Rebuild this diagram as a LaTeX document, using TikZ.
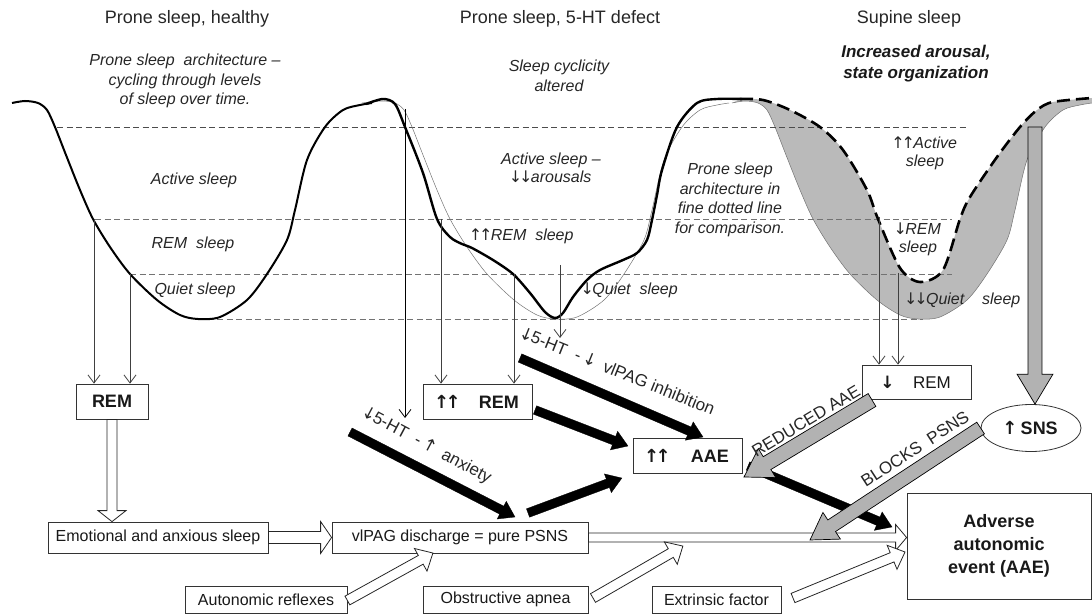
\documentclass[tikz,border=0pt]{standalone}
\usepackage{fontspec}
\setmainfont{Liberation Sans}
\newfontfamily\arrfont{DejaVu Sans}
\newcommand\arU{{\arrfont\kern-0.1em ↑\kern-0.1em}}
\newcommand\arD{{\arrfont\kern-0.1em ↓\kern-0.1em}}
\usetikzlibrary{calc,arrows.meta,shapes.geometric}

\newcommand\fatarr[6][]{%
  \path[#1] let \p1=#2, \p2=#3,
    \n1={atan2(\y2-\y1,\x2-\x1)},
    \n2={veclen(\x2-\x1,\y2-\y1)} in
    [shift={(\p1)},rotate=\n1]
    (0pt,#4pt) -- ({\n2-#6pt},#4pt) -- ({\n2-#6pt},#5pt) -- (\n2,0pt)
    -- ({\n2-#6pt},-#5pt) -- ({\n2-#6pt},-#4pt) -- (0pt,-#4pt) -- cycle;}

\begin{document}
\begin{tikzpicture}[x=1bp,y=-1bp,
  ttl/.style={font=\fontsize{18bp}{21bp}\selectfont, inner sep=0pt, text=black!85},
  itl/.style={font=\fontsize{16bp}{19.5bp}\selectfont\itshape, align=center, inner sep=0pt, text=black!85},
  itlb/.style={font=\fontsize{17bp}{21bp}\selectfont\itshape\bfseries, align=center, inner sep=0pt, text=black!90},
  lbl/.style={font=\fontsize{17bp}{19bp}\selectfont, inner sep=0pt, text=black!85},
  box/.style={draw=black!80, line width=0.8bp, fill=white, inner sep=0pt, font=\fontsize{16bp}{19bp}\selectfont, text=black!90},
  bbox/.style={box, font=\fontsize{18bp}{23bp}\selectfont\bfseries},
  hl/.style={dash pattern=on 6bp off 3.5bp, line width=0.7bp, black!55},
  thinarr/.style={line width=0.8bp, black!75, -{Straight Barb[length=8bp,width=12bp]}},
  curve/.style={line width=2bp, black},
  thincurve/.style={line width=0.5bp, black!55},
  dashcurve/.style={line width=2.6bp, black, dash pattern=on 13bp off 6bp},
  whitearr/.style={fill=white, draw=black!85, line width=0.8bp},
  blackarr/.style={fill=black, draw=black, line width=0.3bp},
  grayarr/.style={fill=black!30, draw=black, line width=0.7bp}]
\useasboundingbox (0,0) rectangle (1092,614);

% titles
\node[ttl] (t1) at (187,19) {Prone sleep, healthy};
\node[ttl] (t2) at (560,19) {Prone sleep, 5-HT defect};
\node[ttl] (t3) at (909,19) {Supine sleep};
\node[itl] (s1) at (185,81) {Prone sleep\ \ architecture --\\cycling through levels\\of sleep over time.};
\node[itl] (s2) at (559,76) {Sleep cyclicity\\altered};
\node[itlb] (s3) at (916,63.5) {Increased arousal,\\state organization};

% gray supine region
\fill[black!27] plot[smooth] coordinates {(732,103) (745,101) (758,103) (767,110) (775,127) (786,155) (800,190) (813,219) (830,247) (850,274) (877,300) (900,315) (918,319) (940,317) (967,300) (987,274) (1007,240) (1015,210) (1027,160) (1045,127) (1063,110) (1080,105) (1092,103)}
  -- plot[smooth] coordinates {(1092,98) (1053,102) (1037,110) (1020,127) (997,157) (970,197) (960,219) (943,270) (920,282) (900,268) (878,219) (867,190) (843,150) (820,127) (790,110) (763,100) (740,99)} -- cycle;
\draw[thincurve] plot[smooth] coordinates {(732,103) (745,101) (758,103) (767,110) (775,127) (786,155) (800,190) (813,219) (830,247) (850,274) (877,300) (900,315) (918,319) (940,317) (967,300) (987,274) (1007,240) (1015,210) (1027,160) (1045,127) (1063,110) (1080,105) (1092,103)};

% dashed level lines
\draw[hl, black!70] (57,127) -- (969,127);
\draw[hl] (95,219) -- (952,219);
\draw[hl] (130,274) -- (952,274);
\draw[hl] (198,319) -- (923,319);

% healthy curve
\draw[curve] plot[smooth] coordinates {(12,103) (25,101) (38,103) (47,110) (55,127) (66,155) (80,190) (93,219) (110,247) (130,274) (157,300) (180,315) (198,319) (220,317) (247,300) (267,274) (287,240) (295,210) (307,160) (325,127) (343,110) (360,105) (372,103)};
% prone reference (fine dotted)
\begin{scope}[xshift=357bp]
\draw[thincurve] plot[smooth] coordinates {(5,103) (25,101) (38,103) (47,110) (55,127) (66,155) (80,190) (93,219) (110,247) (130,274) (157,300) (180,315) (198,319) (220,317) (247,300) (267,274) (287,240) (295,210) (307,160) (325,127) (343,110) (360,105) (372,103)};
\end{scope}
% 5-HT defect curve
\draw[curve, line width=2.4bp] plot[smooth] coordinates {(366,104) (383,99) (395,104) (405,127) (423,173) (437,219) (450,237) (462,244) (472,248) (493,260) (513,274) (530,293) (545,312) (555,318) (563,313) (573,297) (587,280) (600,270) (623,260) (637,253) (647,240) (652,220) (657,195) (662,170) (677,127) (697,103) (717,99) (742,99)};
% supine dashed curve
\draw[dashcurve] plot[smooth] coordinates {(740,99) (763,100) (790,110) (820,127) (843,150) (867,190) (878,219) (900,268) (920,282) (943,270) (960,219) (970,197) (997,157) (1020,127) (1037,110) (1053,102) (1092,98)};

% curve labels
\node[itl] (la1) at (194,180) {Active sleep};
\node[itl] (la2) at (193,244) {REM\ \ sleep};
\node[itl] (la3) at (195,290) {Quiet sleep};
\node[itl, font=\fontsize{16bp}{18bp}\selectfont\itshape] (lb1) at (551,168) {Active sleep --\\\arD\arD arousals};
\node[itl] (lb2) at (522,236) {\arU\arU REM\ \ sleep};
\node[itl] (lb3) at (630,290) {\arD Quiet\ \ sleep};
\node[itl] (lb4) at (730,200) {Prone sleep\\architecture in\\fine dotted line\\for comparison.};
\node[itl, font=\fontsize{16bp}{18bp}\selectfont\itshape] (lc1) at (925,153) {\arU\arU Active\\sleep};
\node[itl, font=\fontsize{16bp}{18bp}\selectfont\itshape] (lc2) at (918,239) {\arD REM\\sleep};
\node[itl] (lc3) at (963,300) {\arD\arD Quiet\ \ \ \ sleep};

% boxes
\node[bbox, minimum width=72bp, minimum height=35bp] (remA) at (112,401.5) {REM};
\node[bbox, minimum width=109bp, minimum height=35bp] (remB) at (477.5,401.5) {\arU\arU\hspace{20bp}REM};
\node[box, font=\fontsize{17bp}{20bp}\selectfont, minimum width=109bp, minimum height=34bp] (remC) at (916.5,382) {\textbf{\arD}\hspace{20bp}REM};
\node[bbox, minimum width=109bp, minimum height=35bp] (aaeB) at (687.5,455.5) {\arU\arU\hspace{22bp}AAE};
\node[bbox, ellipse, minimum width=100bp, minimum height=47bp] (sns) at (1031,428) {\arU\ SNS};
\node[box, minimum width=220bp, minimum height=31bp] (emo) at (158,537.5) {Emotional and anxious sleep};
\node[box, minimum width=256bp, minimum height=31bp] (vlpag) at (460,537.5) {vlPAG discharge = pure PSNS};
\node[box, minimum width=162bp, minimum height=27bp] (auto) at (266,599.5) {Autonomic reflexes};
\node[box, minimum width=165bp, minimum height=27bp] (obst) at (505.5,599.5) {Obstructive apnea};
\node[box, minimum width=129bp, minimum height=27bp] (extr) at (716.5,599.5) {Extrinsic factor};
\node[bbox, align=center, minimum width=184bp, minimum height=106bp] (adv) at (999,546) {Adverse\\autonomic\\event (AAE)};

% thin arrows from the curves
\coordinate (a1) at (94,219);
\coordinate (a2) at (130,274);
\draw[thinarr] (a1) -- (a1 |- remA.north);
\draw[thinarr] (a2) -- (a2 |- remA.north);
\coordinate (b1) at (441,219);
\coordinate (b2) at (514,274);
\draw[thinarr] (b1) -- (b1 |- remB.north);
\draw[thinarr] (b2) -- (b2 |- remB.north);
\coordinate (b3) at (405,109);
\coordinate (b3e) at (405,418);
\draw[thinarr, black] (b3) -- (b3e);
\coordinate (b4) at (560,265);
\coordinate (b4e) at (560,338);
\draw[thinarr] (b4) -- (b4e);
\coordinate (c1) at (879,217);
\coordinate (c2) at (898,273);
\draw[thinarr] (c1) -- (c1 |- remC.north);
\draw[thinarr] (c2) -- (c2 |- remC.north);

% white fat arrows
\fatarr[whitearr]{(remA.south)}{(remA.south |- emo.north)}{5}{14}{11}
\fatarr[whitearr]{(emo.east)}{(vlpag.west)}{6}{16}{11}
\fatarr[whitearr]{(vlpag.east)}{(vlpag.east -| adv.west)}{4.5}{13}{11}
\coordinate (autoT) at (433,553);
\fatarr[whitearr]{($(auto.east)+(0,1)$)}{(autoT)}{5}{13}{14}
\coordinate (obstS) at (593,598);
\coordinate (obstT) at (683,546);
\fatarr[whitearr]{(obstS)}{(obstT)}{5}{13}{14}
\coordinate (extrS) at (793,598);
\coordinate (extrT) at (905,552);
\fatarr[whitearr]{(extrS)}{(extrT)}{5}{13}{14}

% black arrows
\coordinate (k1s) at (520,358);
\coordinate (k1t) at (703,437);
\fatarr[blackarr]{(k1s)}{(k1t)}{4.5}{10}{15}
\coordinate (k2s) at (535,410);
\coordinate (k2t) at (628,446);
\fatarr[blackarr]{(k2s)}{(k2t)}{4.5}{10}{15}
\coordinate (k3s) at (350,432);
\coordinate (k3t) at (515,517);
\fatarr[blackarr]{(k3s)}{(k3t)}{4.5}{10}{15}
\coordinate (k4s) at (528,513);
\coordinate (k4t) at (622,478);
\fatarr[blackarr]{(k4s)}{(k4t)}{4.5}{10}{15}
\coordinate (k5s) at (748,466);
\coordinate (k5t) at (892,527);
\fatarr[blackarr]{(k5s)}{(k5t)}{4.5}{10}{15}

% gray arrows
\coordinate (gS) at (1035,127);
\fatarr[grayarr]{(gS)}{(gS |- sns.north)}{7}{18}{30}
\coordinate (rS) at (872,400);
\coordinate (rT) at (744,477);
\fatarr[grayarr]{(rS)}{(rT)}{7.5}{17}{27}
\coordinate (pT) at (810,540);
\fatarr[grayarr]{(sns.west)}{(pT)}{7}{16}{26}

% arrow labels
\node[lbl, rotate=31] (lr) at (806,421) {REDUCED AAE};
\node[lbl, rotate=33] (lp) at (915,449) {BLOCKS\ \ PSNS};
\node[lbl, rotate=-22] (lv) at (618,371) {\arD5-HT\ \ -\ \arD\ \ vlPAG inhibition};
\node[lbl, rotate=-28] (lx) at (427,446) {\arD5-HT\ \ -\ \arU\ \ anxiety};
\end{tikzpicture}
\end{document}
